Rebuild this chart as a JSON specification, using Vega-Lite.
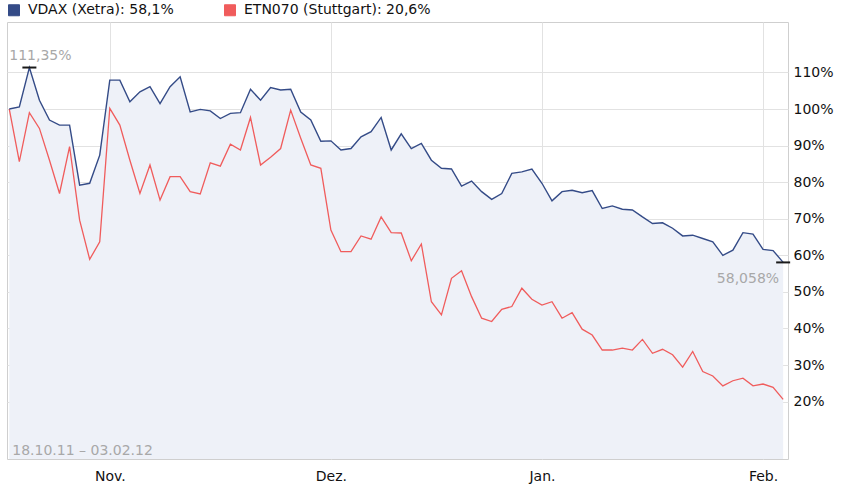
{
  "$schema": "https://vega.github.io/schema/vega-lite/v6.json",
  "width": 781,
  "height": 437,
  "autosize": {"type": "none"},
  "padding": {"left": 7, "top": 22, "right": 66, "bottom": 30},
  "background": "white",
  "config": {
    "font": "DejaVu Sans",
    "view": {"stroke": "#cfcfcf", "strokeWidth": 1},
    "axis": {
      "labelFont": "DejaVu Sans",
      "labelFontSize": 14,
      "labelColor": "#111111",
      "gridColor": "#e2e2e2",
      "domain": false,
      "ticks": false
    }
  },
  "data": {
    "values": [
      {"d": "2011-10-18", "vdax": 100, "etn": 100},
      {"d": "2011-10-19", "vdax": 100.6, "etn": 85.6},
      {"d": "2011-10-20", "vdax": 111.35, "etn": 99},
      {"d": "2011-10-21", "vdax": 102.4, "etn": 94.7},
      {"d": "2011-10-24", "vdax": 97, "etn": 86},
      {"d": "2011-10-25", "vdax": 95.6, "etn": 76.9},
      {"d": "2011-10-26", "vdax": 95.6, "etn": 89.7},
      {"d": "2011-10-27", "vdax": 79.2, "etn": 69.6},
      {"d": "2011-10-28", "vdax": 79.7, "etn": 58.9},
      {"d": "2011-10-31", "vdax": 87.4, "etn": 63.7},
      {"d": "2011-11-01", "vdax": 107.9, "etn": 100.2},
      {"d": "2011-11-02", "vdax": 107.9, "etn": 95.6},
      {"d": "2011-11-03", "vdax": 102, "etn": 86},
      {"d": "2011-11-04", "vdax": 104.7, "etn": 76.9},
      {"d": "2011-11-07", "vdax": 106.1, "etn": 84.7},
      {"d": "2011-11-08", "vdax": 101.5, "etn": 75.1},
      {"d": "2011-11-09", "vdax": 106.1, "etn": 81.5},
      {"d": "2011-11-10", "vdax": 108.8, "etn": 81.5},
      {"d": "2011-11-11", "vdax": 99.2, "etn": 77.4},
      {"d": "2011-11-14", "vdax": 99.9, "etn": 76.8},
      {"d": "2011-11-15", "vdax": 99.5, "etn": 85.3},
      {"d": "2011-11-16", "vdax": 97.4, "etn": 84.4},
      {"d": "2011-11-17", "vdax": 98.8, "etn": 90.4},
      {"d": "2011-11-18", "vdax": 99, "etn": 88.8},
      {"d": "2011-11-21", "vdax": 105.4, "etn": 97.7},
      {"d": "2011-11-22", "vdax": 102.4, "etn": 84.7},
      {"d": "2011-11-23", "vdax": 105.9, "etn": 86.8},
      {"d": "2011-11-24", "vdax": 105.2, "etn": 89.2},
      {"d": "2011-11-25", "vdax": 105.4, "etn": 99.7},
      {"d": "2011-11-28", "vdax": 99.2, "etn": 92},
      {"d": "2011-11-29", "vdax": 97, "etn": 84.7},
      {"d": "2011-11-30", "vdax": 91.2, "etn": 83.8},
      {"d": "2011-12-01", "vdax": 91.3, "etn": 66.9},
      {"d": "2011-12-02", "vdax": 88.8, "etn": 61},
      {"d": "2011-12-05", "vdax": 89.2, "etn": 61},
      {"d": "2011-12-06", "vdax": 92.4, "etn": 65.3},
      {"d": "2011-12-07", "vdax": 93.8, "etn": 64.4},
      {"d": "2011-12-08", "vdax": 97.7, "etn": 70.5},
      {"d": "2011-12-09", "vdax": 88.8, "etn": 66.2},
      {"d": "2011-12-12", "vdax": 93.2, "etn": 66.1},
      {"d": "2011-12-13", "vdax": 89.2, "etn": 58.5},
      {"d": "2011-12-14", "vdax": 90.6, "etn": 63.1},
      {"d": "2011-12-15", "vdax": 86, "etn": 47.3},
      {"d": "2011-12-16", "vdax": 83.8, "etn": 43.7},
      {"d": "2011-12-19", "vdax": 83.6, "etn": 53.7},
      {"d": "2011-12-20", "vdax": 78.9, "etn": 55.8},
      {"d": "2011-12-21", "vdax": 80.3, "etn": 48.7},
      {"d": "2011-12-22", "vdax": 77.4, "etn": 42.8},
      {"d": "2011-12-23", "vdax": 75.3, "etn": 41.9},
      {"d": "2011-12-27", "vdax": 76.9, "etn": 45.2},
      {"d": "2011-12-28", "vdax": 82.4, "etn": 46},
      {"d": "2011-12-29", "vdax": 82.8, "etn": 51},
      {"d": "2011-12-30", "vdax": 83.6, "etn": 48},
      {"d": "2012-01-02", "vdax": 79.7, "etn": 46.4},
      {"d": "2012-01-03", "vdax": 74.9, "etn": 47.3},
      {"d": "2012-01-04", "vdax": 77.4, "etn": 42.8},
      {"d": "2012-01-05", "vdax": 77.8, "etn": 44.3},
      {"d": "2012-01-06", "vdax": 77.1, "etn": 39.8},
      {"d": "2012-01-09", "vdax": 77.7, "etn": 38.2},
      {"d": "2012-01-10", "vdax": 72.8, "etn": 34.1},
      {"d": "2012-01-11", "vdax": 73.5, "etn": 34.1},
      {"d": "2012-01-12", "vdax": 72.6, "etn": 34.6},
      {"d": "2012-01-13", "vdax": 72.4, "etn": 34.1},
      {"d": "2012-01-16", "vdax": 70.5, "etn": 37},
      {"d": "2012-01-17", "vdax": 68.7, "etn": 33.2},
      {"d": "2012-01-18", "vdax": 68.9, "etn": 34.3},
      {"d": "2012-01-19", "vdax": 67.4, "etn": 32.8},
      {"d": "2012-01-20", "vdax": 65.3, "etn": 29.4},
      {"d": "2012-01-23", "vdax": 65.5, "etn": 33.7},
      {"d": "2012-01-24", "vdax": 64.6, "etn": 28.2},
      {"d": "2012-01-25", "vdax": 63.7, "etn": 27},
      {"d": "2012-01-26", "vdax": 60, "etn": 24.3},
      {"d": "2012-01-27", "vdax": 61.4, "etn": 25.7},
      {"d": "2012-01-30", "vdax": 66.2, "etn": 26.4},
      {"d": "2012-01-31", "vdax": 65.8, "etn": 24.3},
      {"d": "2012-02-01", "vdax": 61.6, "etn": 24.8},
      {"d": "2012-02-02", "vdax": 61.3, "etn": 23.9},
      {"d": "2012-02-03", "vdax": 58.058, "etn": 20.6}
    ]
  },
  "layer": [
    {
      "mark": {"type": "area", "color": "#eef1f8", "opacity": 1, "clip": true},
      "encoding": {
        "x": {
          "field": "d",
          "type": "ordinal",
          "scale": {"type": "point", "padding": 0.355, "align": 0.32},
          "axis": {
            "title": null,
            "orient": "bottom",
            "values": ["2011-11-01", "2011-12-01", "2012-01-02", "2012-02-01"],
            "labelExpr": "datum.value == '2011-11-01' ? 'Nov.' : datum.value == '2011-12-01' ? 'Dez.' : datum.value == '2012-01-02' ? 'Jan.' : 'Feb.'",
            "labelAngle": 0,
            "labelPadding": 10,
            "grid": true
          }
        },
        "y": {
          "field": "vdax",
          "type": "quantitative",
          "scale": {"domain": [4.3, 123.8], "nice": false, "zero": false},
          "axis": {
            "title": null,
            "orient": "right",
            "values": [20, 30, 40, 50, 60, 70, 80, 90, 100, 110],
            "labelExpr": "datum.value + '%'",
            "labelPadding": 5,
            "labelBaseline": "middle",
            "grid": true
          }
        }
      }
    },
    {
      "mark": {"type": "line", "strokeWidth": 1.3, "clip": true},
      "encoding": {
        "x": {"field": "d", "type": "ordinal"},
        "y": {"field": "etn", "type": "quantitative"},
        "color": {
          "datum": "ETN070 (Stuttgart): 20,6%",
          "scale": {
            "domain": ["VDAX (Xetra): 58,1%", "ETN070 (Stuttgart): 20,6%"],
            "range": ["#344b87", "#f05c5c"]
          },
          "legend": {
            "title": null,
            "orient": "none",
            "legendX": 0,
            "legendY": -19,
            "direction": "horizontal",
            "padding": 0,
            "symbolType": "square",
            "symbolSize": 121,
            "symbolStrokeWidth": 1,
            "labelFont": "DejaVu Sans",
            "labelFontSize": 14,
            "labelColor": "#111111",
            "labelLimit": 0,
            "labelOffset": 7,
            "columnPadding": 48,
            "encode": {
              "symbols": {
                "update": {
                  "fill": {"scale": "color", "field": "value"},
                  "stroke": {"value": "#222222"},
                  "strokeWidth": {"value": 1},
                  "opacity": {"value": 1}
                }
              }
            }
          }
        }
      }
    },
    {
      "mark": {"type": "line", "strokeWidth": 1.4, "clip": true},
      "encoding": {
        "x": {"field": "d", "type": "ordinal"},
        "y": {"field": "vdax", "type": "quantitative"},
        "color": {"datum": "VDAX (Xetra): 58,1%"}
      }
    },
    {
      "data": {"values": [
        {"d": "2011-10-20", "v": 111.35},
        {"d": "2012-02-03", "v": 58.058}
      ]},
      "mark": {"type": "tick", "color": "#1a1a1a", "size": 14, "thickness": 2, "opacity": 1},
      "encoding": {
        "x": {"field": "d", "type": "ordinal"},
        "y": {"field": "v", "type": "quantitative"}
      }
    },
    {
      "data": {"values": [{"d": "2011-10-20", "v": 111.35, "t": "111,35%"}]},
      "mark": {"type": "text", "align": "center", "baseline": "middle", "dx": 11, "dy": -12, "fontSize": 14, "color": "#a8a8a8"},
      "encoding": {
        "x": {"field": "d", "type": "ordinal"},
        "y": {"field": "v", "type": "quantitative"},
        "text": {"field": "t"}
      }
    },
    {
      "data": {"values": [{"d": "2012-02-03", "v": 58.058, "t": "58,058%"}]},
      "mark": {"type": "text", "align": "right", "baseline": "middle", "dx": -4, "dy": 17, "fontSize": 14, "color": "#a8a8a8"},
      "encoding": {
        "x": {"field": "d", "type": "ordinal"},
        "y": {"field": "v", "type": "quantitative"},
        "text": {"field": "t"}
      }
    },
    {
      "data": {"values": [{"d": "2011-10-18", "t": "18.10.11 – 03.02.12"}]},
      "mark": {"type": "text", "align": "left", "baseline": "middle", "dx": 3, "dy": -8, "fontSize": 14, "color": "#a8a8a8"},
      "encoding": {
        "x": {"field": "d", "type": "ordinal"},
        "y": {"datum": 4.3, "type": "quantitative"},
        "text": {"field": "t"}
      }
    }
  ]
}
